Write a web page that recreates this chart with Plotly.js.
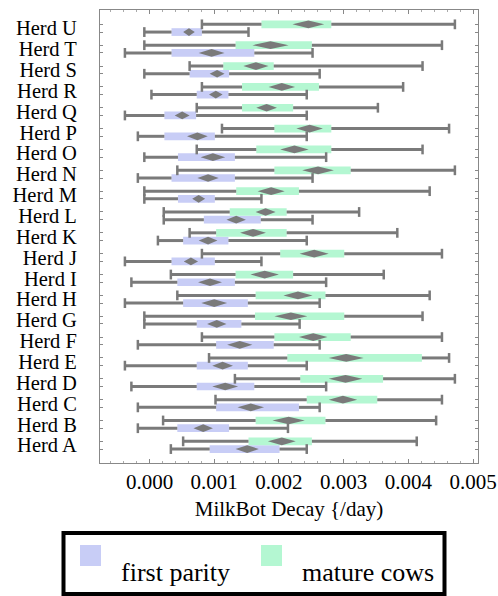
<!DOCTYPE html>
<html>
<head>
<meta charset="utf-8">
<script src="https://cdn.plot.ly/plotly-3.0.1.min.js"></script>
<style>html,body{margin:0;padding:0;background:#fff;}#chart{width:498px;height:596px;}</style>
</head>
<body>
<div id="chart"></div>
<script>
// ---- data (order: Herd A .. Herd U) ----
const herds = ['Herd A','Herd B','Herd C','Herd D','Herd E','Herd F','Herd G','Herd H','Herd I','Herd J','Herd K','Herd L','Herd M','Herd N','Herd O','Herd P','Herd Q','Herd R','Herd S','Herd T','Herd U'];

// first parity: whisker low/high, box q1/q3, diamond (CI) low/high
const fpLow   = [0.00033,-0.00018,-0.00018,-0.00028,-0.00038,-0.00018,-0.00008,-0.00038,-0.00028,-0.00038,0.00013,0.00022,-0.00008,-0.00018,-0.00008,-0.00018,-0.00038,0.00003,-0.00008,-0.00038,-0.00008];
const fpQ1    = [0.00093,0.00043,0.00103,0.00073,0.00073,0.00103,0.00073,0.00052,0.00043,0.00034,0.00052,0.00084,0.00044,0.00034,0.00044,0.00023,0.00023,0.00073,0.00062,0.00034,0.00034];
const fpQ3    = [0.00201,0.00123,0.00231,0.00162,0.00152,0.00192,0.00142,0.00152,0.00132,0.00101,0.00122,0.00172,0.00101,0.00132,0.00132,0.00101,0.00072,0.00122,0.00123,0.00162,0.00081];
const fpHigh  = [0.00243,0.00214,0.00263,0.00273,0.00243,0.00263,0.00232,0.00263,0.00273,0.00173,0.00243,0.00252,0.00173,0.00252,0.00273,0.00243,0.00243,0.00243,0.00263,0.00252,0.00153];
const fpCiLow = [0.00133,0.00068,0.00136,0.00097,0.00097,0.00120,0.00089,0.00080,0.00075,0.00053,0.00076,0.00119,0.00066,0.00074,0.00079,0.00058,0.00039,0.00092,0.00093,0.00076,0.00052];
const fpCiHigh= [0.00169,0.00098,0.00177,0.00137,0.00129,0.00159,0.00119,0.00120,0.00112,0.00075,0.00105,0.00149,0.00086,0.00107,0.00117,0.00090,0.00062,0.00113,0.00116,0.00116,0.00070];

// mature cows
const mcLow   = [0.00052,0.00021,0.00102,0.00132,0.00092,0.00081,-0.00008,0.00043,0.00033,0.00081,0.00062,0.00022,-0.00008,0.00043,0.00073,0.00112,0.00073,0.00081,0.00062,-0.00008,0.00081];
const mcQ1    = [0.00153,0.00164,0.00243,0.00233,0.00213,0.00193,0.00163,0.00164,0.00133,0.00202,0.00103,0.00124,0.00134,0.00193,0.00165,0.00193,0.00143,0.00143,0.00114,0.00133,0.00173];
const mcQ3    = [0.00251,0.00272,0.00352,0.00361,0.00421,0.00311,0.00301,0.00272,0.00222,0.00301,0.00212,0.00212,0.00231,0.00311,0.00281,0.00281,0.00222,0.00262,0.00192,0.00251,0.00281];
const mcHigh  = [0.00413,0.00443,0.00452,0.00472,0.00463,0.00452,0.00422,0.00433,0.00362,0.00452,0.00383,0.00324,0.00433,0.00472,0.00422,0.00463,0.00353,0.00392,0.00422,0.00452,0.00472];
const mcCiLow = [0.00183,0.00190,0.00277,0.00277,0.00277,0.00231,0.00193,0.00207,0.00156,0.00232,0.00140,0.00164,0.00167,0.00236,0.00202,0.00227,0.00165,0.00184,0.00145,0.00159,0.00221];
const mcCiHigh= [0.00226,0.00240,0.00321,0.00329,0.00331,0.00275,0.00244,0.00252,0.00200,0.00277,0.00180,0.00195,0.00209,0.00285,0.00246,0.00268,0.00197,0.00225,0.00184,0.00215,0.00270];

const seriesNames = ['first parity','mature cows'];
const xTickVals = [0,0.001,0.002,0.003,0.004,0.005];
const axisTitle = 'MilkBot Decay {/day)';

// ---- styling ----
const FONT = '"Liberation Serif","Times New Roman",Times,serif';
const BLUE = '#c8cdf6';
const GREEN = '#b4f7d2';
const GRAY = '#7a7a7a';
const OFF = 0.185, HALF = 0.185;
const W = 498, H = 596, ML = 100, MR = 20, MT = 10, MB = 133;
const PW = W - ML - MR, PH = H - MT - MB;
const px = x => (x - ML) / PW;
const py = y => (H - MB - y) / PH;

function series(name, color, offset, lo, q1, q3, hi, cL, cH) {
  const pos = herds.map((_, i) => i + offset);
  const bar = {type:'bar', orientation:'h', name:name, y:pos, base:q1,
    x:q3.map((v,i)=>v-q1[i]), width:2*HALF, marker:{color:color, line:{width:0}},
    showlegend:false, hoverinfo:'skip'};
  const wx=[], wy=[];
  pos.forEach((p,i)=>{ wx.push(lo[i],q1[i],null,q3[i],hi[i],null); wy.push(p,p,null,p,p,null); });
  const whisk = {type:'scatter', mode:'lines', x:wx, y:wy, line:{color:GRAY,width:3},
    showlegend:false, hoverinfo:'skip'};
  const caps = {type:'scatter', mode:'markers', x:lo.concat(hi), y:pos.concat(pos),
    marker:{symbol:'line-ns', size:7, line:{color:GRAY,width:2.5}}, showlegend:false, hoverinfo:'skip'};
  const dx=[], dy=[];
  pos.forEach((p,i)=>{ const m=(cL[i]+cH[i])/2;
    dx.push(cL[i],m,cH[i],m,cL[i],null); dy.push(p,p+HALF,p,p-HALF,p,null); });
  const dia = {type:'scatter', mode:'lines', x:dx, y:dy, fill:'toself', fillcolor:GRAY,
    line:{width:0,color:GRAY}, showlegend:false, hoverinfo:'skip'};
  return {bar, whisk, caps, dia};
}

const fp = series(seriesNames[0], BLUE, -OFF, fpLow, fpQ1, fpQ3, fpHigh, fpCiLow, fpCiHigh);
const mc = series(seriesNames[1], GREEN, OFF, mcLow, mcQ1, mcQ3, mcHigh, mcCiLow, mcCiHigh);
const data = [fp.bar, mc.bar, fp.whisk, mc.whisk, fp.caps, mc.caps, fp.dia, mc.dia];

const rowTicks = [];
herds.forEach((_, i) => { rowTicks.push(i - OFF, i + OFF); });

const layout = {
  width: W, height: H,
  margin: {l: ML, r: MR, t: MT, b: MB},
  paper_bgcolor: '#fff', plot_bgcolor: '#fff',
  barmode: 'overlay', showlegend: false,
  font: {family: FONT, size: 21, color: '#000'},
  xaxis: {
    range: [-0.000765, 0.005077], showgrid: false, zeroline: false,
    tickmode: 'array', tickvals: xTickVals, tickformat: '.3f',
    ticks: 'inside', ticklen: 4, tickcolor: '#888', tickwidth: 1,
    minor: {dtick: 0.0002, ticks: 'inside', ticklen: 2, tickcolor: '#aaa'},
    showline: true, linecolor: '#888', linewidth: 1, mirror: 'allticks',
    tickfont: {family: FONT, size: 21, color: '#000'},
    title: {text: axisTitle, font: {family: FONT, size: 21, color: '#000'}, standoff: 8}
  },
  yaxis: {
    range: [-0.854, 20.873], showgrid: false, zeroline: false,
    tickmode: 'array', tickvals: herds.map((_, i) => i), ticktext: herds,
    ticks: '', ticklabelstandoff: 18,
    minor: {tickmode: 'array', tickvals: rowTicks, ticks: 'inside', ticklen: 3, tickcolor: '#888'},
    showline: true, linecolor: '#888', linewidth: 1, mirror: 'allticks',
    tickfont: {family: FONT, size: 20.5, color: '#000'}
  },
  shapes: [
    {type:'rect', xref:'paper', yref:'paper', x0:px(63.5), x1:px(444.5), y0:py(594), y1:py(533),
      line:{color:'#000', width:4}, fillcolor:'rgba(0,0,0,0)'},
    {type:'rect', xref:'paper', yref:'paper', x0:px(80), x1:px(101), y0:py(566), y1:py(545),
      line:{width:0}, fillcolor:BLUE},
    {type:'rect', xref:'paper', yref:'paper', x0:px(261), x1:px(282), y0:py(566), y1:py(545),
      line:{width:0}, fillcolor:GREEN}
  ],
  annotations: [
    {xref:'paper', yref:'paper', x:px(119), y:py(572), xanchor:'left', yanchor:'middle', showarrow:false,
      text:seriesNames[0], font:{family:FONT, size:26, color:'#000'}},
    {xref:'paper', yref:'paper', x:px(300), y:py(572), xanchor:'left', yanchor:'middle', showarrow:false,
      text:seriesNames[1], font:{family:FONT, size:26, color:'#000'}}
  ]
};

Plotly.newPlot('chart', data, layout, {staticPlot: true, displayModeBar: false});
</script>
</body>
</html>
